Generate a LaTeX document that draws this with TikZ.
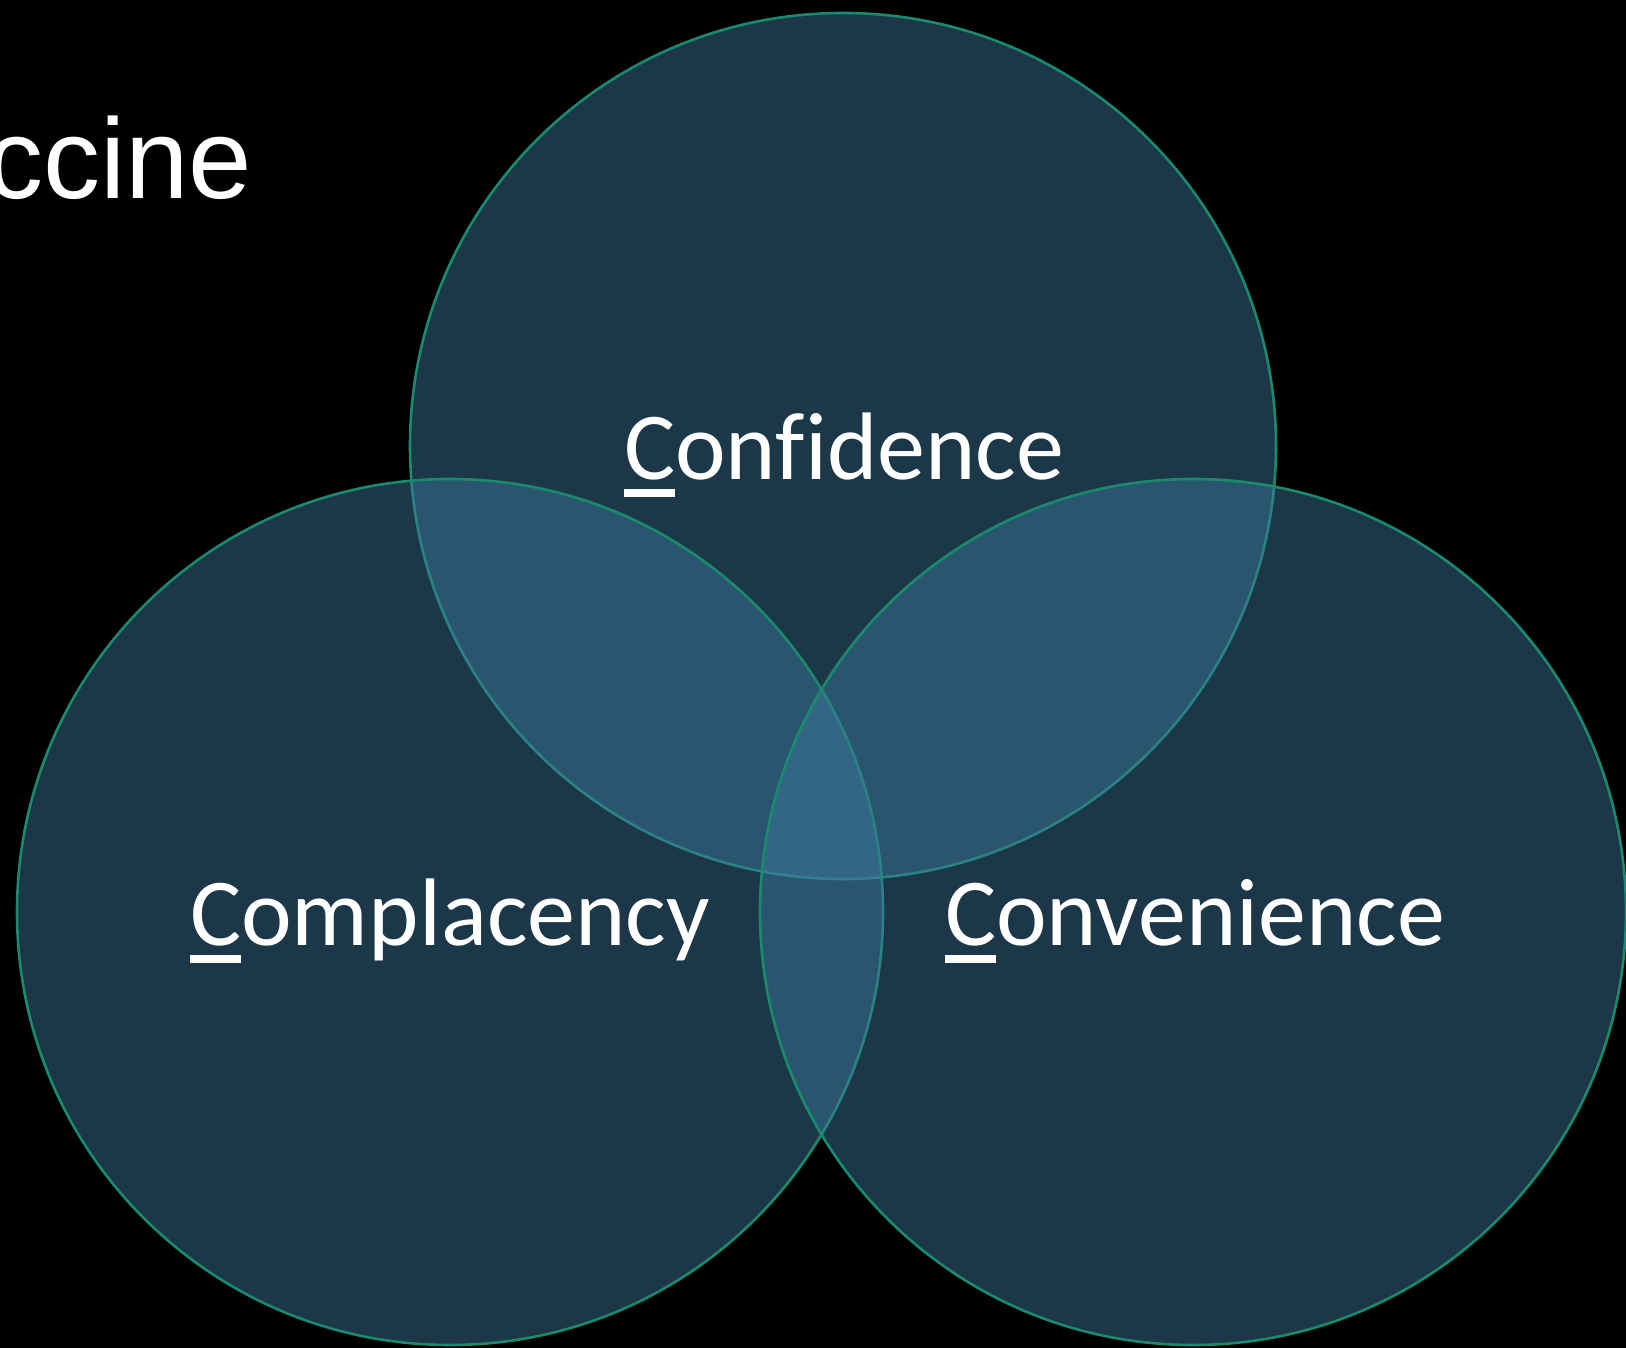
\documentclass[tikz,border=0pt]{standalone}
\usepackage{fontspec}
\setmainfont{Carlito}[Ligatures=NoCommon]
\newfontfamily\titlefont{Liberation Sans}
\definecolor{circfill}{RGB}{62,122,160}
\definecolor{circline}{RGB}{26,138,110}
\newcommand\ulfirst[1]{\setbox0\hbox{#1}\rlap{\rule[-0.19em]{\wd0}{0.083em}}#1}
\tikzset{
  vcircle/.style={fill=circfill, fill opacity=0.45, draw=circline, draw opacity=1, line width=2.6pt},
  vlabel/.style={anchor=base west, inner sep=0pt, text=white, font=\fontsize{96}{110}\selectfont},
  vtitle/.style={anchor=base west, inner sep=0pt, text=white, font=\titlefont\fontsize{114}{130}\selectfont}
}
\begin{document}
\begin{tikzpicture}[x=1pt,y=-1pt]
  \fill[black] (0,0) rectangle (1626,1348);
  \useasboundingbox (0,0) rectangle (1626,1348);
  \node[vtitle] (title) at (-14,199) {ccine};
  \coordinate (ctop) at (843,446);
  \coordinate (cleft) at (450,912);
  \coordinate (cright) at (1193,912);
  \path[vcircle] (ctop) circle[radius=433];
  \path[vcircle] (cleft) circle[radius=433];
  \path[vcircle] (cright) circle[radius=433];
  \node[vlabel] (confidence) at (624,479) {\ulfirst{C}onfidence};
  \node[vlabel] (complacency) at (190,945) {\ulfirst{C}omplacency};
  \node[vlabel] (convenience) at (945,945) {\ulfirst{C}onvenience};
\end{tikzpicture}
\end{document}
